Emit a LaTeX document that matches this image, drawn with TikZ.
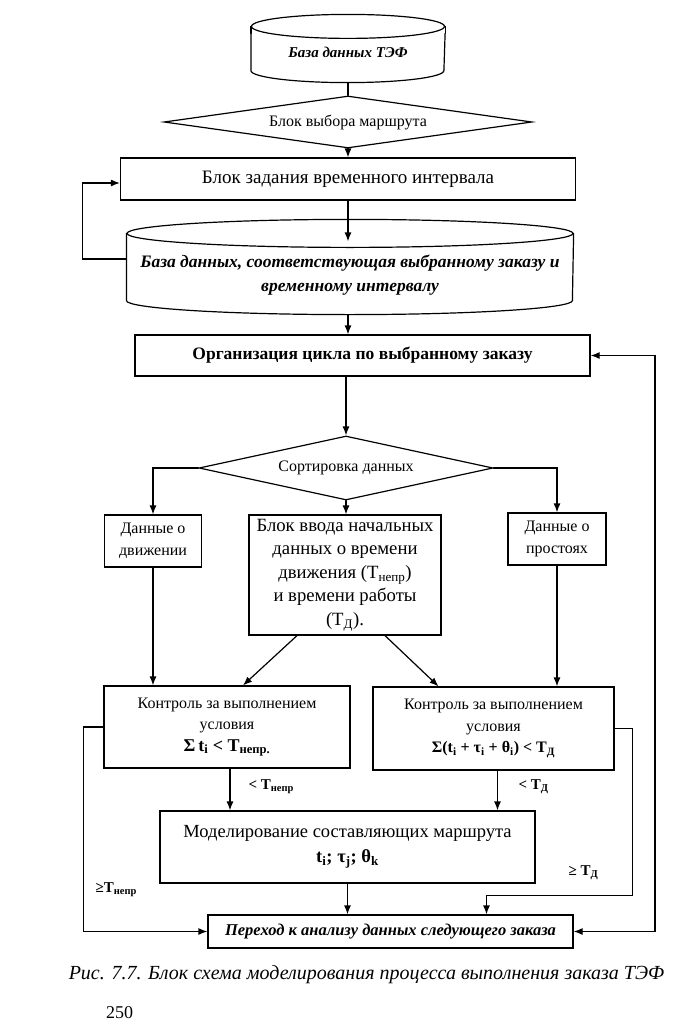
\documentclass[tikz,border=0pt]{standalone}
\usepackage{fontspec}
\setmainfont{Liberation Serif}
\usetikzlibrary{shapes.geometric,arrows.meta}

\begin{document}
\begin{tikzpicture}[x=1pt,y=-1pt,line width=1.2pt,line cap=round,
  >={Latex[length=9pt,width=7pt]},
  blok/.style={draw,rectangle,align=center,inner sep=0pt,font=\fontsize{16}{21.5}\selectfont},
  romb/.style={draw,diamond,inner sep=0pt,font=\fontsize{16}{20}\selectfont},
  baza/.style={align=center,inner sep=0pt,font=\fontsize{15}{24}\selectfont\bfseries\itshape},
  metka/.style={anchor=west,inner sep=0pt,font=\fontsize{15}{18}\selectfont\bfseries}]
\useasboundingbox (0,0) rectangle (691,1036);
% верхняя часть
\node[baza,minimum width=193pt,minimum height=36pt] (db1) at (348,52) {База данных ТЭФ};
\draw (db1.north west) -- (db1.south west) arc[start angle=180,end angle=360,x radius=96.5pt,y radius=12pt] -- (db1.north east);
\draw ([yshift=7pt]db1.north) ellipse[x radius=96.5pt,y radius=12pt];
\draw ([yshift=7pt]db1.north west) -- (db1.north west);
\draw ([yshift=7pt]db1.north east) -- (db1.north east);
\node[romb,aspect=7.1,minimum width=368pt,minimum height=52pt] (d1) at (348,122) {Блок выбора маршрута};
\draw ([yshift=-12pt]db1.south) -- (d1.north);
\node[blok,minimum width=455pt,minimum height=42pt,font=\fontsize{19}{22}\selectfont] (bz) at (348,179) {Блок задания временного интервала};
\draw[->] (d1.south) -- (bz.north);
\node[baza,minimum width=446pt,minimum height=50pt,font=\fontsize{17.5}{24}\selectfont\bfseries\itshape] (db2) at (350,275)
  {База данных, соответствующая выбранному заказу и\\временному интервалу};
\draw ([yshift=16pt]db2.north west) -- (db2.south west) arc[start angle=180,end angle=360,x radius=223pt,y radius=14pt] -- ([yshift=16pt]db2.north east);
\draw ([yshift=16pt]db2.north) ellipse[x radius=223pt,y radius=14pt];
\coordinate (dbverh) at ([yshift=8pt]db2.north);
\draw[->] (bz.south) -- (bz.south |- dbverh);
\draw[->] ([yshift=16pt]db2.west) -- ++(-44,0) |- ([yshift=-4pt]bz.west);
\node[blok,minimum width=455pt,minimum height=41pt,font=\fontsize{17.5}{21}\selectfont\bfseries] (org) at (362.5,355.5)
  {Организация цикла по выбранному заказу};
\coordinate (dbniz) at ([yshift=-14pt]db2.south -| bz.south);
\draw[->] (dbniz) -- (dbniz |- org.north);
% сортировка
\node[romb,aspect=4.6,minimum width=294pt,minimum height=64pt] (d2) at (346,468) {Сортировка данных};
\draw[->] (org.south -| d2.north) -- (d2.north);
\node[blok,minimum width=97pt,minimum height=52pt] (dd) at (153,541) {Данные о\\движении};
\node[blok,minimum width=192pt,minimum height=120pt,font=\fontsize{18.7}{23.5}\selectfont] (bv) at (345,575)
  {Блок ввода начальных\\данных о времени\\движения (T\textsubscript{непр})\\и времени работы\\(T\textsubscript{Д}).};
\node[blok,minimum width=98pt,minimum height=52pt] (dp) at (557,539) {Данные о\\простоях};
\draw[->] (d2.west) -| (dd.north);
\draw[->] (d2.east) -| (dp.north);
\draw[->] (d2.south) -- (d2.south |- bv.north);
% контроль
\node[blok,minimum width=246pt,minimum height=82pt] (k1) at (227,727)
  {Контроль за выполнением\\условия\\\fontsize{18}{22}\selectfont\bfseries Σ\,t\textsubscript{i} < T\textsubscript{непр.}};
\node[blok,minimum width=241pt,minimum height=83pt] (k2) at (493.5,728.5)
  {Контроль за выполнением\\условия\\\textbf{Σ(t\textsubscript{i} + τ\textsubscript{i} + θ\textsubscript{i}) < T\textsubscript{Д}}};
\draw[->] (dd.south) -- (dd.south |- k1.north);
\draw[->] (dp.south) -- (dp.south |- k2.north);
\draw[->] ([xshift=-48pt]bv.south) -- ([xshift=16pt]k1.north);
\draw[->] ([xshift=40pt]bv.south) -- ([xshift=-55pt]k2.north);
% моделирование
\node[blok,minimum width=375pt,minimum height=72pt,font=\fontsize{18.5}{25}\selectfont] (mb) at (347.5,847)
  {Моделирование составляющих маршрута\\\textbf{t\textsubscript{i}; τ\textsubscript{j}; θ\textsubscript{k}}};
\node[blok,minimum width=365pt,minimum height=33pt,font=\fontsize{16.5}{21}\selectfont\bfseries\itshape] (nx) at (390.5,931.5)
  {Переход к анализу данных следующего заказа};
\draw[->] ([xshift=3pt]k1.south) -- ([xshift=3pt]k1.south |- mb.north);
\draw[->] ([xshift=4pt]k2.south) -- ([xshift=4pt]k2.south |- mb.north);
\node[metka] (m1) at (248,787) {< T\textsubscript{непр}};
\node[metka] (m2) at (518,787) {< T\textsubscript{Д}};
\draw[->] (mb.south) -- (mb.south |- nx.north);
\draw[->] (k1.west) -- ++(-20,0) |- (nx.west);
\draw[->] (k2.east) -- ++(18,0) -- ++(0,167) -| ([xshift=96pt]nx.north);
\node[metka] (m3) at (95,890) {≥T\textsubscript{непр}};
\node[metka] (m4) at (568,873) {≥ T\textsubscript{Д}};
% обратная связь
\coordinate (rr) at (655,645);
\draw[->] (rr) |- (org.east);
\draw[->] (rr) |- (nx.east);
% подпись
\node[inner sep=0pt,font=\fontsize{20}{24}\selectfont\itshape] (ris) at (366.5,975)
  {Рис. 7.7. Блок схема моделирования процесса выполнения заказа ТЭФ};
\node[inner sep=0pt,font=\fontsize{18}{20}\selectfont] (str) at (119.5,1013) {250};
\end{tikzpicture}
\end{document}
